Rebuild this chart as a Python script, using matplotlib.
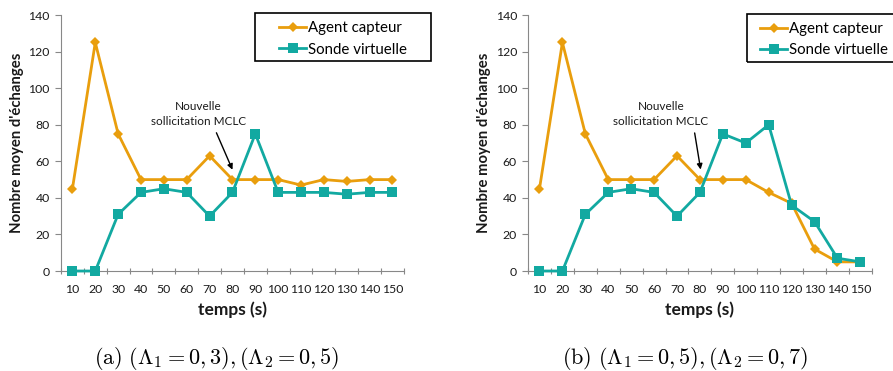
import matplotlib.pyplot as plt
from matplotlib.patches import Rectangle

ORANGE = "#E99E0D"
TEAL = "#12A9A1"
AXIS_GRAY = "#888888"
TEXT_BLACK = "#1A1A1A"

plt.rcParams["font.family"] = ["Lato", "DejaVu Sans"]
plt.rcParams["mathtext.fontset"] = "cm"

temps = [10, 20, 30, 40, 50, 60, 70, 80, 90, 100, 110, 120, 130, 140, 150]

agent_a = [45, 125, 75, 50, 50, 50, 63, 50, 50, 50, 47, 50, 49, 50, 50]
sonde_a = [0, 0, 31, 43, 45, 43, 30, 43, 75, 43, 43, 43, 42, 43, 43]

agent_b = [45, 125, 75, 50, 50, 50, 63, 50, 50, 50, 43, 37, 12, 5, 5]
sonde_b = [0, 0, 31, 43, 45, 43, 30, 43, 75, 70, 80, 36, 27, 7, 5]

captions = [
    r"$\mathrm{(a)}\ (\Lambda_1 = 0,3), (\Lambda_2 = 0,5)$",
    r"$\mathrm{(b)}\ (\Lambda_1 = 0,5), (\Lambda_2 = 0,7)$",
]

W, H = 893, 371


def draw_panel(fig, rect, agent, sonde, box_px, legend_px, note_xy, arrow_from, arrow_to):
    ax = fig.add_axes(rect)
    pos = list(range(len(temps)))

    ax.plot(pos, agent, color=ORANGE, lw=2.0, marker="D", ms=5.5,
            markeredgewidth=0, label="Agent capteur", clip_on=False, zorder=3)
    ax.plot(pos, sonde, color=TEAL, lw=2.0, marker="s", ms=7.5,
            markeredgewidth=0, label="Sonde virtuelle", clip_on=False, zorder=3)

    ax.set_xlim(-0.5, len(temps) - 0.5)
    ax.set_ylim(0, 140)
    ax.set_yticks(range(0, 141, 20))
    ax.set_xticks([p - 0.5 for p in pos] + [len(temps) - 0.5])
    ax.set_xticklabels([])
    ax.set_xticks(pos, minor=True)
    ax.set_xticklabels([str(t) for t in temps], minor=True)
    ax.tick_params(axis="x", which="minor", length=0, pad=9, labelsize=8.8,
                   labelcolor=TEXT_BLACK)
    ax.tick_params(axis="x", which="major", length=4, color=AXIS_GRAY, direction="inout")
    ax.tick_params(axis="y", length=4, color=AXIS_GRAY, labelsize=8.8,
                   labelcolor=TEXT_BLACK, pad=4)

    ax.spines["top"].set_visible(False)
    ax.spines["right"].set_visible(False)
    ax.spines["left"].set_color(AXIS_GRAY)
    ax.spines["bottom"].set_color(AXIS_GRAY)

    ax.set_xlabel("temps (s)", fontsize=12.5, fontweight="bold", labelpad=5,
                  color=TEXT_BLACK)
    ax.set_ylabel("Nombre moyen d'échanges", fontsize=10.7, fontweight="bold",
                  labelpad=3.5, color=TEXT_BLACK)

    ax.text(note_xy[0], note_xy[1], "Nouvelle\nsollicitation MCLC", ha="center",
            va="center", fontsize=8.5, color=TEXT_BLACK, linespacing=1.45)
    ax.annotate("", xy=arrow_to, xytext=arrow_from,
                arrowprops=dict(arrowstyle="-|>", color="black", lw=1.0,
                                mutation_scale=8))

    x0, y0, x1, y1 = box_px
    fig.add_artist(Rectangle((x0 / W, 1 - y1 / H), (x1 - x0) / W, (y1 - y0) / H,
                             transform=fig.transFigure, fill=False,
                             edgecolor="black", lw=1.2, clip_on=False))
    fig.legend(*ax.get_legend_handles_labels(), loc="upper left",
               bbox_to_anchor=(legend_px[0] / W, 1 - legend_px[1] / H),
               fontsize=10.8, frameon=False, handlelength=1.8,
               handletextpad=0.15, borderpad=0, labelspacing=0.5,
               borderaxespad=0)
    return ax


fig = plt.figure(figsize=(W / 100, H / 100), dpi=100)

draw_panel(fig, [0.0683, 0.2695, 0.384, 0.690], agent_a, sonde_a,
           (255, 13, 431, 61), (279, 21), (5.5, 86), (6.25, 77), (7.05, 54))
draw_panel(fig, [0.5913, 0.2695, 0.385, 0.690], agent_b, sonde_b,
           (747, 14, 900, 62), (760, 22), (5.3, 86), (6.75, 77), (7.05, 54))

fig.text(217 / W, 1 - 359 / H, captions[0], ha="center", va="center", fontsize=16)
fig.text(685 / W, 1 - 359 / H, captions[1], ha="center", va="center", fontsize=16)

fig.savefig("out.png", dpi=100)
